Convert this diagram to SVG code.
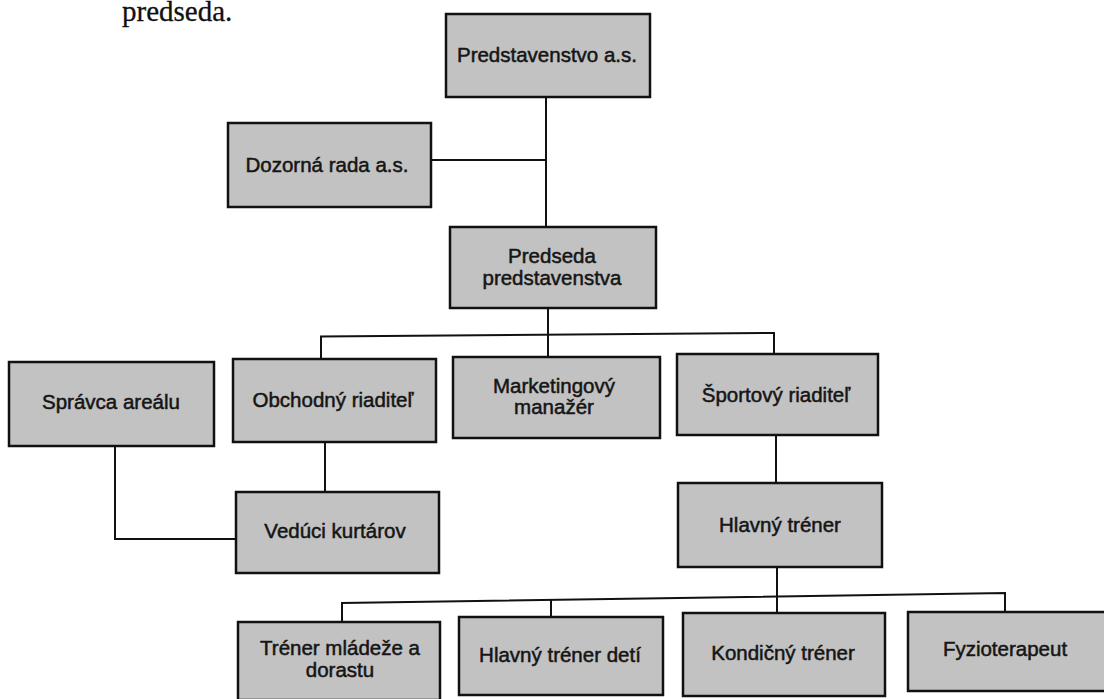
<svg xmlns="http://www.w3.org/2000/svg" width="1104" height="699" viewBox="0 0 1104 699">
<style>
.box{fill:#c2c2c2;stroke:#111;stroke-width:2.5}
.lbl{font-family:"Liberation Sans",Arial,sans-serif;font-size:20.5px;fill:#151515;stroke:#151515;stroke-width:0.5;text-anchor:middle}
.con{fill:none;stroke:#111;stroke-width:2}
.title{font-family:"Liberation Serif","Times New Roman",serif;font-size:29px;fill:#111;stroke:#111;stroke-width:0.3}
</style>
<rect width="1104" height="699" fill="#fff"/>
<text class="title" x="122" y="21">predseda.</text>
<g id="connectors">
<path class="con" d="M546 97V227"/>
<path class="con" d="M431 160H546"/>
<path class="con" d="M548 308V357"/>
<path class="con" d="M321 359V336.5L774 333V354"/>
<path class="con" d="M325 442V492"/>
<path class="con" d="M115 446V539H236"/>
<path class="con" d="M776 435V483"/>
<path class="con" d="M777 567V613"/>
<path class="con" d="M342 622V603L1005 593V612"/>
<path class="con" d="M551 600V617"/>
</g>
<g id="n-predstavenstvo"><rect class="box" x="446" y="14" width="204" height="83"/><text class="lbl" x="547" y="62">Predstavenstvo a.s.</text></g>
<g id="n-dozorna"><rect class="box" x="228" y="123" width="203" height="84"/><text class="lbl" x="327" y="172">Dozorná rada a.s.</text></g>
<g id="n-predseda"><rect class="box" x="450" y="227" width="206" height="81"/><text class="lbl" x="552" y="263">Predseda</text><text class="lbl" x="552" y="285">predstavenstva</text></g>
<g id="n-spravca"><rect class="box" x="9" y="362" width="205" height="84"/><text class="lbl" x="111" y="409">Správca areálu</text></g>
<g id="n-obchodny"><rect class="box" x="233" y="359" width="203" height="83"/><text class="lbl" x="333" y="407">Obchodný riaditeľ</text></g>
<g id="n-marketing"><rect class="box" x="453" y="357" width="207" height="81"/><text class="lbl" x="554" y="393">Marketingový</text><text class="lbl" x="554" y="414">manažér</text></g>
<g id="n-sportovy"><rect class="box" x="677" y="354" width="201" height="81"/><text class="lbl" x="776" y="402">Športový riaditeľ</text></g>
<g id="n-veduci"><rect class="box" x="236" y="492" width="203" height="81"/><text class="lbl" x="335" y="538">Vedúci kurtárov</text></g>
<g id="n-hlavny"><rect class="box" x="678" y="483" width="204" height="84"/><text class="lbl" x="780" y="532">Hlavný tréner</text></g>
<g id="n-mladez"><rect class="box" x="238" y="622" width="202" height="78"/><text class="lbl" x="340" y="655">Tréner mládeže a</text><text class="lbl" x="340" y="677">dorastu</text></g>
<g id="n-deti"><rect class="box" x="459" y="617" width="204" height="78"/><text class="lbl" x="560" y="662">Hlavný tréner detí</text></g>
<g id="n-kondicny"><rect class="box" x="683" y="613" width="202" height="83"/><text class="lbl" x="783" y="660">Kondičný tréner</text></g>
<g id="n-fyzio"><rect class="box" x="908" y="612" width="200" height="79"/><text class="lbl" x="1005" y="656">Fyzioterapeut</text></g>
</svg>
